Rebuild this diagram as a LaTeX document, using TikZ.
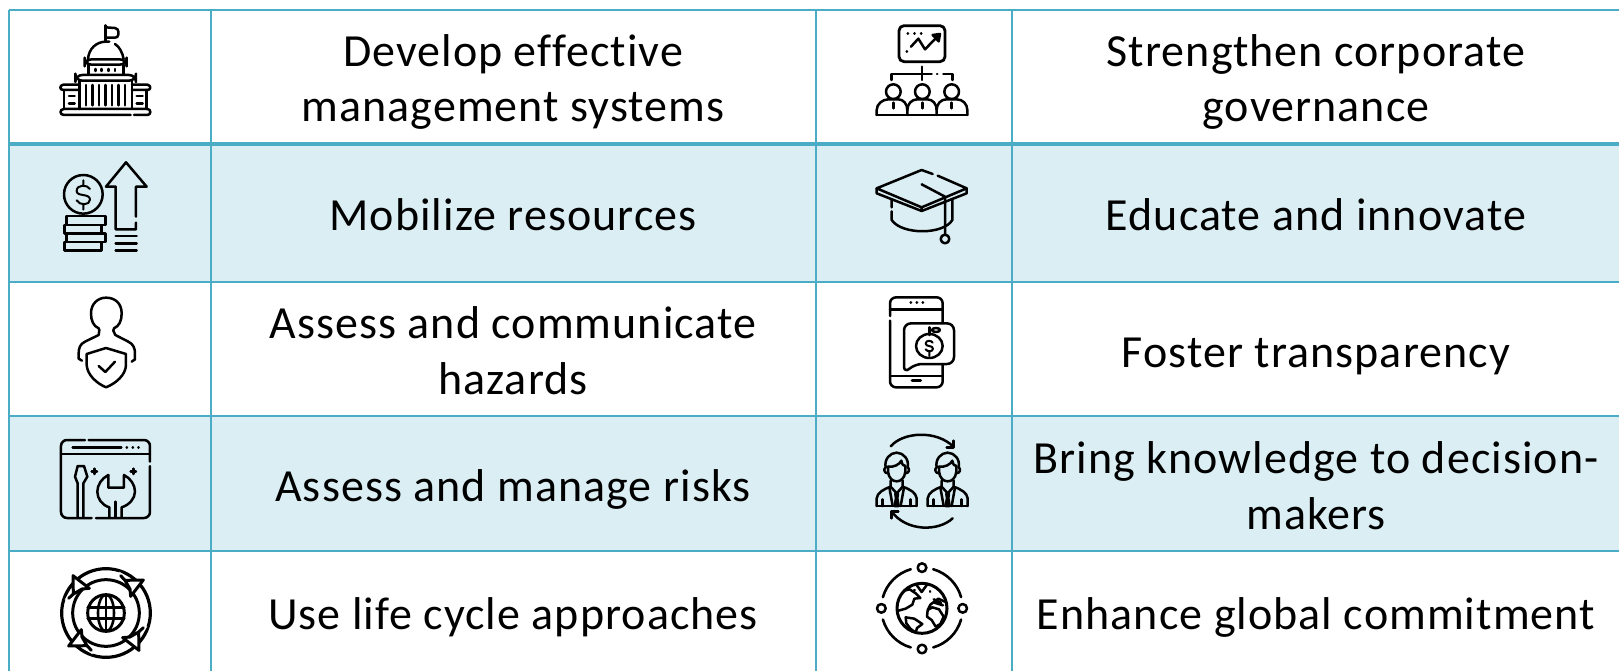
\documentclass[tikz,border=0pt]{standalone}
\usepackage{fontspec}
\setmainfont{Carlito}[LetterSpace=2.3,Ligatures=NoCommon]
\definecolor{gridblue}{HTML}{4BACC6}
\definecolor{bandblue}{HTML}{DAEEF3}
\tikzset{
  gridline/.style={draw=gridblue,line width=2.6pt},
  gridthick/.style={draw=gridblue,line width=4.6pt},
  band/.style={fill=bandblue,draw=none},
  celltext/.style={align=center,text=black,font=\fontsize{46}{55.5}\selectfont,inner sep=0pt},
  ic/.style={draw=black,line width=2.5pt,line cap=round,line join=round},
  icthin/.style={draw=black,line width=2pt,line cap=round,line join=round},
  zoomed/.style={x=0.33333pt,y=-0.33333pt},
}
\newcommand{\dollarsign}{%
  (20,-16) .. controls (12,-30) and (-20,-30) .. (-20,-10) .. controls (-20,8) and (20,-4) .. (20,16) .. controls (20,34) and (-12,34) .. (-20,18)
  (0,-42) -- (0,-28) (0,30) -- (0,46)}
\newcommand{\suitperson}[1]{%
 \begin{scope}[xshift=#1pt]
  \draw[ic] (47,112) .. controls (42,88) and (60,68) .. (80,68) .. controls (100,68) and (118,88) .. (113,112);
  \draw[ic] (54,110) -- (54,125) .. controls (56,145) and (68,154) .. (80,154) .. controls (92,154) and (104,145) .. (106,125) -- (106,108);
  \draw[ic] (54,110) .. controls (72,112) and (88,104) .. (94,92) .. controls (96,104) and (100,108) .. (106,108);
  \draw[ic] (47,112) .. controls (40,116) and (42,130) .. (54,130) (113,112) .. controls (120,116) and (118,130) .. (106,130);
  \draw[ic] (62,152) -- (62,170) -- (80,190) -- (98,170) -- (98,152);
  \draw[ic] (20,228) -- (20,205) .. controls (22,188) and (40,178) .. (62,170);
  \draw[ic] (140,228) -- (140,205) .. controls (138,188) and (120,178) .. (98,170);
  \draw[ic] (38,208) -- (38,228) (122,208) -- (122,228) (20,228) -- (140,228);
  \draw[ic] (58,172) -- (68,228) (102,172) -- (92,228);
  \draw[ic,fill=black] (76,192) -- (84,192) -- (82,204) -- (86,228) -- (74,228) -- (78,204) -- cycle;
 \end{scope}}
\begin{document}
\begin{tikzpicture}[x=1pt,y=-1pt]
\useasboundingbox (0,0) rectangle (1619,671);
\fill[white] (0,0) rectangle (1619,671);
% shaded rows
\path[band] (9,144) rectangle (1619,282);
\path[band] (9,416) rectangle (1619,551);
% grid
\coordinate (tl) at (9,10);
\coordinate (tr) at (1619,10);
\coordinate (bl) at (9,671);
\coordinate (c1t) at (211,10);
\coordinate (c1b) at (211,671);
\coordinate (c2t) at (816,10);
\coordinate (c2b) at (816,671);
\coordinate (c3t) at (1012,10);
\coordinate (c3b) at (1012,671);
\draw[gridline] (tl) -- (tr);
\draw[gridline] (tl) -- (bl);
\draw[gridline] (c1t) -- (c1b);
\draw[gridline] (c2t) -- (c2b);
\draw[gridline] (c3t) -- (c3b);
\draw[gridthick] (9,144) -- (1619,144);
\draw[gridline] (9,282) -- (1619,282);
\draw[gridline] (9,416) -- (1619,416);
\draw[gridline] (9,551) -- (1619,551);
% texts
\node[celltext] (t1) at (513,82) {Develop effective\\management systems};
\node[celltext] (t2) at (513,215) {Mobilize resources};
\node[celltext] (t3) at (513,350.5) {Assess and communicate\\hazards};
\node[celltext] (t4) at (513,489) {Assess and manage risks};
\node[celltext] (t5) at (513,617) {Use life cycle approaches};
\node[celltext] (t6) at (1316,82) {Strengthen corporate\\governance};
\node[celltext] (t7) at (1316,215) {Educate and innovate};
\node[celltext] (t8) at (1316,356) {Foster transparency};
\node[celltext] (t9) at (1316,485.5) {Bring knowledge to decision-\\makers};
\node[celltext] (t10) at (1316,617) {Enhance global commitment};
% --- capitol
\begin{scope}[zoomed]
 \draw[ic] (316,76) -- (316,125);
 \draw[ic] (316,82) -- (345,84) .. controls (352,85) and (355,90) .. (355,95) -- (355,104) .. controls (355,110) and (350,113) .. (345,113) -- (316,113);
 \draw[ic] (264,178) .. controls (266,145) and (290,126) .. (316,125) -- (328,125) (345,132) .. controls (358,140) and (368,158) .. (371,178);
 \draw[ic,rounded corners=7pt] (254,178) rectangle (380,194);
 \draw[ic] (266,194) -- (266,222) (370,194) -- (370,222);
 \draw[ic] (287,207) -- (287,213) (305,207) -- (305,213) (325,207) -- (325,213) (345,207) -- (345,213);
 \draw[ic,rounded corners=7pt] (226,225) rectangle (408,242);
 \foreach \cx in {258,278,297,316,336,355,375}{\draw[ic] (\cx,255) -- (\cx,316);}
 \draw[ic] (238,242) -- (238,327) (396,242) -- (396,327);
 \draw[ic] (238,254) -- (190,254) .. controls (178,256) and (178,270) .. (190,270) -- (238,270);
 \draw[ic] (396,254) -- (442,254) .. controls (454,256) and (454,270) .. (442,270) -- (396,270);
 \draw[ic] (192,270) -- (192,327) (440,270) -- (440,327);
 \draw[ic] (207,288) -- (224,288) (207,310) -- (224,310) (410,288) -- (428,288) (410,310) -- (428,310);
 \draw[ic] (392,345) -- (192,345) .. controls (178,345) and (178,327) .. (192,327) -- (442,327) .. controls (454,327) and (454,345) .. (442,345) -- (402,345);
\end{scope}
% --- money
\begin{scope}[zoomed]
 \draw[ic] (250,583) circle[radius=58];
 \begin{scope}[xshift=83.3pt,yshift=-194.3pt]
  \draw[icthin] \dollarsign;
 \end{scope}
 \draw[ic] (200,648) rectangle (317,675);
 \draw[ic] (193,675) rectangle (305,700);
 \draw[ic] (200,700) rectangle (317,726);
 \draw[ic] (193,726) rectangle (305,752);
 \draw[ic] (408,650) -- (408,560) -- (440,560) -- (378,487) -- (318,560) -- (347,560) -- (347,688) -- (408,688) -- (408,668);
 \draw[ic] (347,708) -- (410,708) (347,730) -- (410,730) (347,752) -- (410,752);
\end{scope}
% --- person with shield
\begin{scope}[zoomed,yshift=-280pt]
 \draw[ic] (298,150) -- (296,145) .. controls (280,138) and (273,122) .. (273,100) .. controls (273,70) and (295,53) .. (318,53) .. controls (345,53) and (365,70) .. (365,100) .. controls (365,122) and (358,138) .. (342,145) -- (340,152) -- (346,165) -- (385,185) .. controls (400,192) and (405,205) .. (405,220) -- (405,238) -- (395,245);
 \draw[ic] (298,150) -- (296,165) -- (255,185) .. controls (240,192) and (236,205) .. (236,220) -- (236,236) -- (246,242);
 \draw[ic] (318,204) -- (260,222) -- (260,255) .. controls (262,285) and (290,310) .. (318,322) .. controls (348,310) and (377,285) .. (378,255) -- (378,222) -- (318,204);
 \draw[ic] (296,258) -- (316,276) -- (345,245);
\end{scope}
% --- tools window
\begin{scope}[zoomed,yshift=-280pt]
 \draw[ic,rounded corners=6pt] (255,480) -- (183,480) -- (183,714) -- (275,714);
 \draw[ic,rounded corners=6pt] (288,714) -- (450,714) -- (450,558);
 \draw[ic,rounded corners=6pt] (450,545) -- (450,480) -- (266,480);
 \draw[ic] (183,522) -- (450,522);
 \draw[ic] (218,503) -- (364,503);
 \draw[ic] (380,503) -- (381,503) (398,503) -- (399,503) (415,503) -- (416,503);
 \draw[ic] (250,712) -- (250,610) -- (262,590) -- (252,558) -- (233,558) -- (225,590) -- (233,610) -- (233,712);
 \draw[ic] (283,566) -- (283,582) (275,574) -- (291,574);
 \draw[ic] (400,566) -- (400,582) (392,574) -- (408,574);
 \draw[ic] (325,585) -- (325,623) -- (372,623) -- (372,585) .. controls (392,595) and (405,615) .. (405,635) .. controls (405,655) and (388,675) .. (365,682) -- (365,712);
 \draw[ic] (325,585) .. controls (305,595) and (292,615) .. (292,635) .. controls (292,655) and (305,675) .. (328,682) -- (328,712);
 \draw[ic] (346,665) -- (346,712);
\end{scope}
% --- globe with arrows
\begin{scope}[zoomed,xshift=106pt,yshift=-613pt]
 \draw[ic,line width=3.2pt] (0,0) circle[radius=133];
 \draw[ic,line width=3pt] (0,0) circle[radius=100];
 \foreach \rr in {0,90,180,270}{
  \begin{scope}[rotate=\rr]
   \fill[white] (40,-124) -- (62,-110) -- (58,-98) -- (40,-104) -- cycle;
   \draw[ic,fill=white,line width=3pt] (57,-98) -- (112,-99) -- (74,-50) -- (72,-72) -- cycle;
   \draw[ic,line width=3pt] (57,-98) -- (44,-112);
  \end{scope}}
 \draw[ic,line width=3pt] (0,0) circle[radius=55];
 \draw[ic,line width=2.6pt] (0,0) ellipse[x radius=24,y radius=55];
 \draw[ic,line width=2.6pt] (0,-55) -- (0,55) (-55,-16) -- (55,-16) (-55,16) -- (55,16);
\end{scope}
% --- board and team
\begin{scope}[zoomed,xshift=810pt]
 \draw[ic,line width=2.8pt,rounded corners=5pt] (267,77) rectangle (405,185);
 \draw[ic] (293,100) -- (294,100) (313,100) -- (314,100) (333,100) -- (334,100);
 \draw[ic] (290,155) -- (291,155);
 \draw[ic] (303,140) -- (325,116) -- (345,148) -- (385,107);
 \draw[ic,fill=black] (368,105) -- (390,102) -- (386,124) -- cycle;
 \draw[ic] (336,200) -- (336,240);
 \draw[ic] (245,240) -- (245,222) -- (365,222) (381,222) -- (382,222) (400,222) -- (427,222) -- (427,240);
 \foreach \hx in {250,337,425}{
  \draw[ic] (\hx,275) circle[radius=22];
  \draw[ic] (\hx,308) -- (\hx,325);
 }
 \draw[ic] (200,345) -- (200,330) .. controls (200,312) and (218,298) .. (235,298) -- (265,298) .. controls (280,298) and (292,312) .. (292,330) -- (292,345);
 \draw[ic] (292,330) .. controls (292,312) and (305,298) .. (322,298) -- (352,298) .. controls (368,298) and (380,312) .. (380,330) -- (380,345);
 \draw[ic] (380,330) .. controls (380,312) and (392,298) .. (410,298) -- (440,298) .. controls (458,298) and (472,312) .. (472,330) -- (472,345);
 \draw[ic,line width=2.8pt] (200,345) -- (472,345);
\end{scope}
% --- graduation cap
\begin{scope}[zoomed,xshift=810pt]
 \draw[ic] (368,522) -- (335,510) -- (200,565) -- (335,622) -- (470,565) -- (383,527);
 \draw[ic] (200,565) -- (200,580) -- (335,633) -- (470,580) -- (470,565) (335,622) -- (335,633);
 \draw[ic] (245,600) -- (245,622) (245,634) -- (245,660) .. controls (275,705) and (400,705) .. (427,660) -- (427,597);
 \draw[ic] (335,553) -- (405,590) -- (405,703);
 \draw[ic] (405,717) circle[radius=13];
\end{scope}
% --- phone
\begin{scope}[zoomed,xshift=810pt,yshift=-280pt]
 \draw[ic,rounded corners=6pt] (398,128) -- (398,52) -- (240,52) -- (240,108);
 \draw[ic,rounded corners=6pt] (240,122) -- (240,322) -- (398,322) -- (398,252);
 \draw[ic] (240,88) -- (398,88) (240,288) -- (398,288);
 \draw[ic] (302,68) -- (303,68) (320,68) -- (321,68) (338,68) -- (339,68);
 \draw[ic,line width=3pt] (306,302) -- (332,302);
 \draw[ic,rounded corners=7pt] (282,280) -- (282,130) -- (432,130) -- (432,252) -- (315,252) -- cycle;
 \draw[ic] (358,198) ellipse[x radius=40,y radius=36];
 \draw[ic] (358,142) -- (358,165);
 \draw[ic] (378,150) ellipse[x radius=12,y radius=6];
 \begin{scope}[xshift=119.3pt,yshift=-66pt]
  \draw[icthin] (10,-10) .. controls (6,-18) and (-11,-18) .. (-11,-7) .. controls (-11,3) and (11,-3) .. (11,8) .. controls (11,18) and (-6,18) .. (-11,10) (0,15) -- (0,30);
 \end{scope}
\end{scope}
% --- knowledge exchange
\begin{scope}[zoomed,xshift=870pt,yshift=-430pt]
 \suitperson{0}
 \suitperson{51}
 \draw[ic] (62,49) .. controls (100,5) and (200,0) .. (250,50);
 \draw[ic] (250,32) -- (250,53) -- (230,53);
 \draw[ic] (248,265) .. controls (205,305) and (110,305) .. (65,245);
 \draw[ic] (65,265) -- (65,245) -- (85,245);
\end{scope}
% --- earth
\begin{scope}[zoomed,xshift=875pt,yshift=-560pt]
 \draw[ic,line width=3pt] (141,145) circle[radius=75];
 \foreach \ang in {-90,0,90,180}{
  \draw[ic] ({141+122*cos(\ang)},{145+122*sin(\ang)}) circle[radius=13];
  \draw[ic,line width=2.6pt] ({141+122*cos(\ang+16)},{145+122*sin(\ang+16)}) arc[start angle=\ang+16,end angle=\ang+74,radius=122];
 }
 \draw[ic] (88,92) -- (104,88) -- (122,100) -- (136,114) -- (118,116) -- (112,134) -- (92,146) -- (70,152);
 \draw[ic] (92,172) -- (118,176) -- (142,192) -- (126,204) -- (122,218) -- (106,206) -- (94,190) -- cycle;
 \draw[ic] (124,74) -- (140,96) -- (156,74);
 \draw[ic] (165,94) -- (166,95) (118,90) -- (119,91);
 \draw[ic] (212,126) -- (190,116) -- (166,134) -- (158,150) -- (172,142) -- (192,148) -- (206,170) -- (196,192) -- (182,200) -- (170,180) -- (156,170) -- (158,150);
 \draw[ic] (178,128) -- (204,136) (176,118) -- (198,128);
\end{scope}
\end{tikzpicture}
\end{document}
